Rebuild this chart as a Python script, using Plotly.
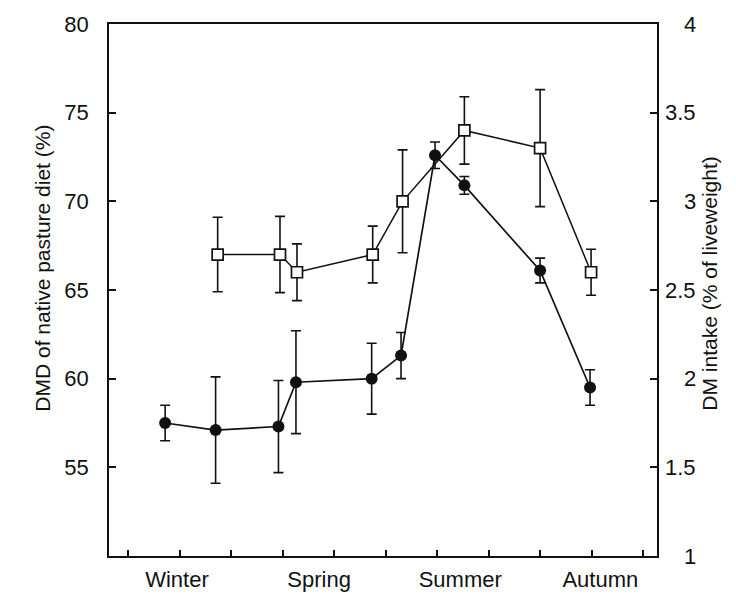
import plotly.graph_objects as go

# Sampling times, in months from the first x tick
dmd_month = [1.74, 2.95, 3.28, 4.75, 5.33, 6.53, 8.00, 8.99]
intake_month = [0.72, 1.70, 2.92, 3.26, 4.73, 5.30, 5.96, 6.53, 8.00, 8.97]

# DMD of the native pasture diet (%), with error bars
dmd = [67.0, 67.0, 66.0, 67.0, 70.0, 74.0, 73.0, 66.0]
dmd_err = [2.1, 2.15, 1.6, 1.6, 2.9, 1.9, 3.3, 1.3]

# DM intake (% of liveweight), with error bars
intake = [1.75, 1.71, 1.73, 1.98, 2.00, 2.13, 3.26, 3.09, 2.61, 1.95]
intake_err = [0.10, 0.30, 0.26, 0.29, 0.20, 0.13, 0.075, 0.05, 0.07, 0.10]

seasons = ["Winter", "Spring", "Summer", "Autumn"]
season_pos = [0.95, 3.71, 6.45, 9.17]
month_ticks = list(range(11))

left_ticks = [55, 60, 65, 70, 75, 80]
right_ticks = [1, 1.5, 2, 2.5, 3, 3.5, 4]
right_labels = ["1", "1.5", "2", "2.5", "3", "3.5", "4"]

FONT = "Liberation Sans, Arial, sans-serif"
INK = "#111111"

fig = go.Figure()

fig.add_trace(go.Scatter(
    x=dmd_month, y=dmd, mode="lines+markers", yaxis="y",
    line=dict(color=INK, width=1.5),
    marker=dict(symbol="square", size=11, color="white",
                line=dict(color=INK, width=1.7)),
    error_y=dict(type="data", array=dmd_err, color=INK, thickness=1.6, width=5),
    showlegend=False,
))

fig.add_trace(go.Scatter(
    x=intake_month, y=intake, mode="lines+markers", yaxis="y2",
    line=dict(color=INK, width=1.7),
    marker=dict(symbol="circle", size=12, color=INK),
    error_y=dict(type="data", array=intake_err, color=INK, thickness=1.6, width=5),
    showlegend=False,
))

fig.update_layout(
    width=736, height=597,
    margin=dict(l=109, r=79, t=24, b=41),
    paper_bgcolor="white", plot_bgcolor="white",
    font=dict(family=FONT, size=22, color=INK),
    xaxis=dict(
        range=[-0.37, 10.27], showgrid=False, zeroline=False, automargin=False,
        showline=True, linecolor=INK, linewidth=1.6, mirror=True,
        tickmode="array", tickvals=season_pos, ticktext=seasons,
        ticks="", ticklabelstandoff=3,
        tickfont=dict(size=22),
        minor=dict(tickmode="array", tickvals=month_ticks, ticks="inside",
                   ticklen=6, tickwidth=1.5, tickcolor=INK, showgrid=False),
    ),
    yaxis=dict(
        range=[50, 80], showgrid=False, zeroline=False, automargin=False,
        showline=True, linecolor=INK, linewidth=1.6,
        tickmode="array", tickvals=left_ticks,
        ticks="inside", ticklen=7, tickwidth=1.5, tickcolor=INK,
        ticklabelstandoff=14, tickfont=dict(size=22),
    ),
    yaxis2=dict(
        range=[1, 4], overlaying="y", side="right", showgrid=False,
        zeroline=False, showline=True, linecolor=INK, linewidth=1.6,
        automargin=False,
        tickmode="array", tickvals=right_ticks,
        ticks="inside", ticklen=7, tickwidth=1.5, tickcolor=INK,
        showticklabels=False,
    ),
)

# Right-hand tick labels, right-aligned like the printed figure
for v, t in zip(right_ticks, right_labels):
    fig.add_annotation(x=1, xref="paper", y=v, yref="y2", text=t,
                       showarrow=False, xanchor="right", xshift=41,
                       font=dict(size=22, color=INK))

# Axis titles
fig.add_annotation(x=0, xref="paper", xshift=-80, y=0.541, yref="paper",
                   text="DMD of native pasture diet (%)", textangle=-90,
                   showarrow=False, font=dict(size=21, color=INK))
fig.add_annotation(x=1, xref="paper", xshift=66, y=0.511, yref="paper",
                   text="DM intake (% of liveweight)", textangle=-90,
                   showarrow=False, font=dict(size=21, color=INK))

fig.write_html("out.html")
